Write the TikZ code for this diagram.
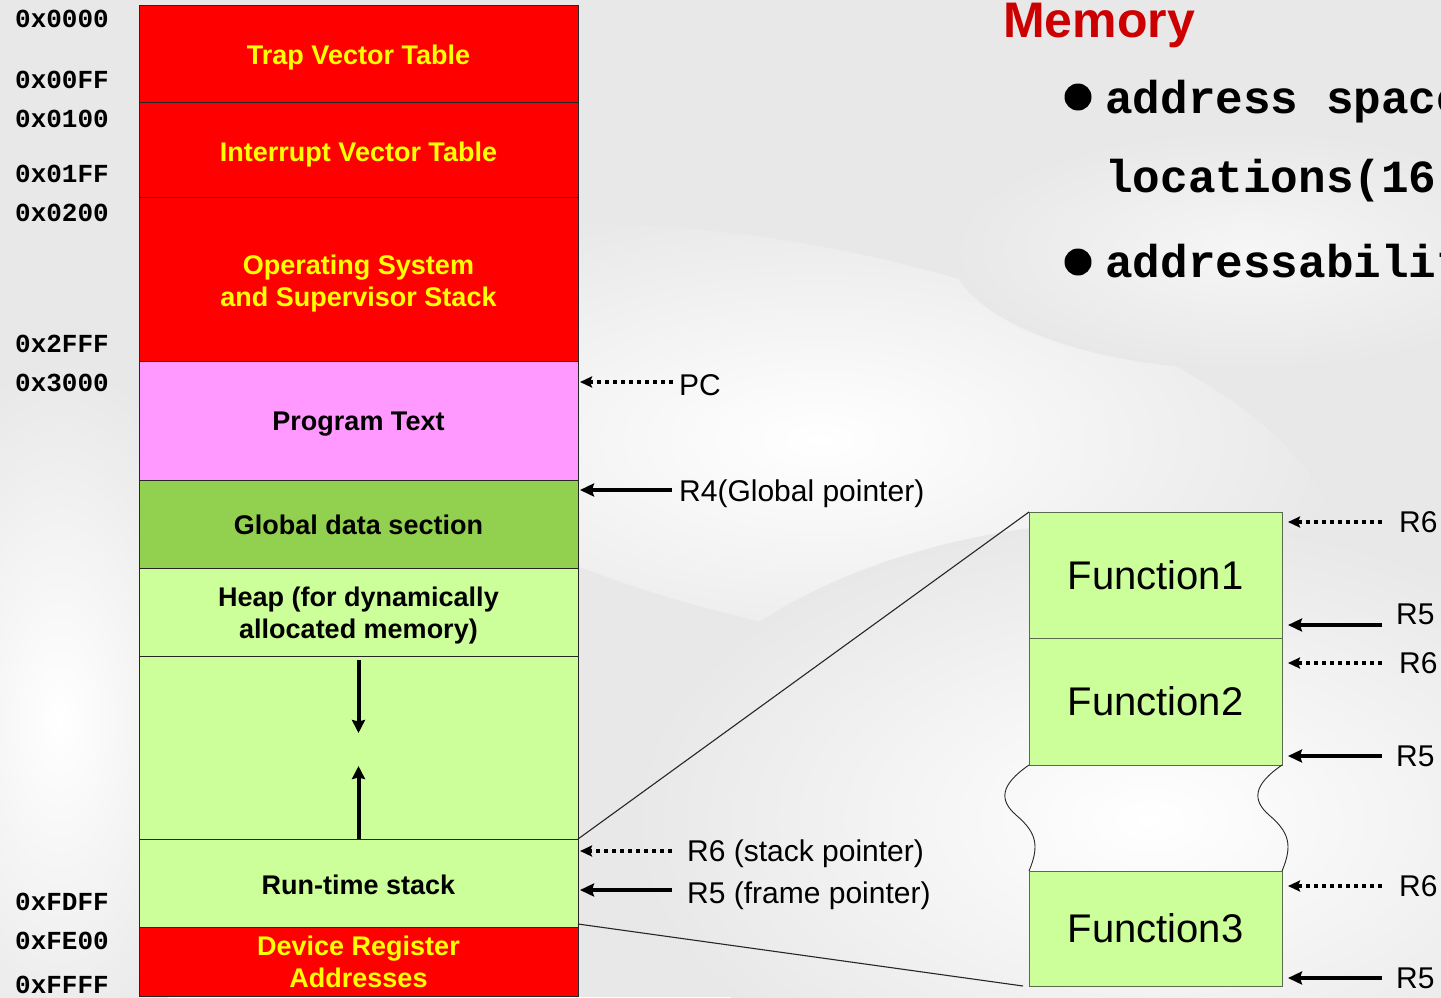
\documentclass[tikz,border=0pt]{standalone}
\usepackage{fontspec}
\setmainfont{Liberation Sans}
\setmonofont{Liberation Mono}
\usetikzlibrary{arrows.meta,calc}

\definecolor{bgray}{HTML}{E8E8E8}
\definecolor{memred}{HTML}{FF0000}
\definecolor{memyellow}{HTML}{FFFF00}
\definecolor{progpink}{HTML}{FF99FF}
\definecolor{globgreen}{HTML}{92D050}
\definecolor{heapgreen}{HTML}{CCFF99}
\definecolor{titlered}{HTML}{CC0000}
\definecolor{fnborder}{HTML}{5A6B4C}

\tikzset{
  membox/.style={draw=black!85, line width=1pt, minimum width=439pt,
    inner sep=0pt, outer sep=0pt},
  boxtext/.style={align=center, inner sep=0pt,
    font=\fontsize{27}{32}\selectfont\bfseries},
  hottext/.style={boxtext, text=memyellow},
  hotbox/.style={membox, fill=memred},
  addr/.style={anchor=west, inner sep=0pt,
    font=\fontsize{26}{26}\selectfont\ttfamily\bfseries},
  ptrlabel/.style={anchor=west, inner sep=0pt,
    font=\fontsize{30}{30}\selectfont},
  solidptr/.style={line width=4pt, -{Stealth[length=14pt,width=13pt,inset=2pt]}},
  dotptr/.style={line width=4pt, dash pattern=on 4pt off 4pt,
    -{Stealth[length=12pt,width=11pt,inset=2pt]}},
  heaparrow/.style={line width=4pt, -{Stealth[length=13pt,width=13pt,inset=1.5pt]}},
  fnbox/.style={draw=fnborder, line width=1pt, fill=heapgreen,
    minimum width=253pt, inner sep=0pt, outer sep=0pt,
    font=\fontsize{40}{40}\selectfont},
  linkline/.style={line width=1.1pt, draw=black!85},
  bullettext/.style={anchor=base west, inner sep=0pt,
    font=\fontsize{46}{46}\selectfont\ttfamily\bfseries}
}

\begin{document}
\begin{tikzpicture}[x=1pt,y=-1pt]
\useasboundingbox (0,0) rectangle (1441,997);
\clip (0,0) rectangle (1441,997);

% soft slide background
\fill[bgray] (0,0) rectangle (1441,997);
\shade[inner color=white, outer color=bgray, rotate around={-12:(820,440)}]
  (820,440) ellipse (520 and 190);
\shade[inner color=white, outer color=bgray] (1150,820) ellipse (520 and 300);
\shade[inner color=white, outer color=bgray] (60,720) ellipse (170 and 360);
\shade[inner color=white!60!bgray, outer color=bgray] (1250,250) ellipse (300 and 120);

% memory map
\node[hotbox, minimum height=97pt,
  label={[hottext, yshift=-4pt]center:Trap Vector Table}] (trap) at (358.5,53.5) {};
\node[hotbox, minimum height=95pt,
  label={[hottext, yshift=-5pt]center:Interrupt Vector Table}] (intr) at (358.5,149.5) {};
\node[hotbox, minimum height=164pt,
  label={[hottext, yshift=-5pt]center:Operating System\\and Supervisor Stack}] (os) at (358.5,279) {};
\node[membox, fill=progpink, minimum height=119pt,
  label={[boxtext, yshift=-4pt]center:Program Text}] (prog) at (358.5,420.5) {};
\node[membox, fill=globgreen, minimum height=88pt,
  label={[boxtext, yshift=-1pt]center:Global data section}] (glob) at (358.5,524) {};
\node[membox, fill=heapgreen, minimum height=88pt,
  label={[boxtext, yshift=-4pt]center:Heap (for dynamically\\allocated memory)}] (heap) at (358.5,612) {};
\node[membox, fill=heapgreen, minimum height=183pt] (free) at (358.5,747.5) {};
\node[membox, fill=heapgreen, minimum height=88pt,
  label={[boxtext, yshift=-2pt]center:Run-time stack}] (rts) at (358.5,883) {};
\node[hotbox, minimum height=69pt,
  label={[hottext]center:Device Register\\Addresses}] (dev) at (358.5,961.5) {};

% heap and stack growth
\draw[heaparrow] ($(free.north)+(0,4)$) -- ($(free.north)+(0,77)$);
\draw[heaparrow] (free.south) -- ($(free.south)+(0,-73)$);

% addresses
\node[addr] (a0)  at (15,19)  {0x0000};
\node[addr] (a1)  at (15,80)  {0x00FF};
\node[addr] (a2)  at (15,119) {0x0100};
\node[addr] (a3)  at (15,174) {0x01FF};
\node[addr] (a4)  at (15,213) {0x0200};
\node[addr] (a5)  at (15,344) {0x2FFF};
\node[addr] (a6)  at (15,383) {0x3000};
\node[addr] (a7)  at (15,902) {0xFDFF};
\node[addr] (a8)  at (15,941) {0xFE00};
\node[addr] (a9)  at (15,985) {0xFFFF};

% register pointers into the memory map
\node[ptrlabel] (pc) at (679,385) {PC};
\draw[dotptr, shorten >=2pt] ([xshift=-6pt,yshift=3pt]pc.west) -- ([yshift=3pt]pc.west -| prog.east);
\node[ptrlabel] (gp) at (679,494) {R4(Global pointer)};
\draw[solidptr, shorten >=2pt] ([xshift=-7pt,yshift=4pt]gp.west) -- ([yshift=4pt]gp.west -| glob.east);
\node[ptrlabel] (sp) at (687,854) {R6 (stack pointer)};
\draw[dotptr, shorten >=2pt] ([xshift=-15pt,yshift=3pt]sp.west) -- ([yshift=3pt]sp.west -| rts.east);
\node[ptrlabel] (fp) at (687,896) {R5 (frame pointer)};
\draw[solidptr, shorten >=2pt] ([xshift=-15pt,yshift=6pt]fp.west) -- ([yshift=6pt]fp.west -| rts.east);

% stack frames
\node[fnbox, minimum height=126pt] (f1) at (1155.5,575)   {Function1};
\node[fnbox, minimum height=127pt] (f2) at (1155.5,701.5) {Function2};
\node[fnbox, minimum height=115pt] (f3) at (1155.5,928.5) {Function3};

% zoom lines from the run-time stack
\draw[linkline] (rts.north east) -- (f1.north west);
\draw[linkline] ([yshift=3pt]rts.south east) -- ([xshift=-6pt]f3.south west);

% break between frames
\draw[linkline, line width=0.9pt] (f2.south west)
  .. controls ($(f2.south west)+(-29,20)$) and ($(f2.south west)+(-30,35)$) .. ($(f2.south west)+(-13,50)$)
  .. controls ($(f2.south west)+(7,67)$) and ($(f3.north west)+(11,-26)$) .. (f3.north west);
\draw[linkline, line width=0.9pt] (f2.south east)
  .. controls ($(f2.south east)+(-29,20)$) and ($(f2.south east)+(-30,35)$) .. ($(f2.south east)+(-13,50)$)
  .. controls ($(f2.south east)+(7,67)$) and ($(f3.north east)+(11,-26)$) .. (f3.north east);

% frame pointers
\node[ptrlabel] (r6a) at (1399,522) {R6};
\draw[dotptr, shorten >=6pt] ([xshift=-17pt]r6a.west) -- (r6a.west -| f1.east);
\node[ptrlabel] (r5a) at (1396,614) {R5};
\coordinate (r5atail) at (1382,625);
\draw[solidptr, shorten >=6pt] (r5atail) -- (r5atail -| f1.east);
\node[ptrlabel] (r6b) at (1399,663) {R6};
\draw[dotptr, shorten >=6pt] ([xshift=-17pt]r6b.west) -- (r6b.west -| f2.east);
\node[ptrlabel] (r5b) at (1396,756) {R5};
\draw[solidptr, shorten >=6pt] ([xshift=-14pt]r5b.west) -- (r5b.west -| f2.east);
\node[ptrlabel] (r6c) at (1399,886) {R6};
\draw[dotptr, shorten >=6pt] ([xshift=-17pt]r6c.west) -- (r6c.west -| f3.east);
\node[ptrlabel] (r5c) at (1396,978) {R5};
\draw[solidptr, shorten >=6pt] ([xshift=-14pt]r5c.west) -- (r5c.west -| f3.east);

% slide title and bullets
\node[anchor=base west, inner sep=0pt, text=titlered,
  font=\fontsize{50}{50}\selectfont\bfseries] (title) at (1003,37) {Memory};
\fill (1078,97) circle (13.5) coordinate (b1);
\fill (1078,262) circle (13.5) coordinate (b2);
\node[bullettext] (t1) at (1105,113) {address space};
\node[bullettext] (t2) at (1105,192) {locations(16-};
\node[bullettext] (t3) at (1105,277) {addressabilit};
\end{tikzpicture}
\end{document}
